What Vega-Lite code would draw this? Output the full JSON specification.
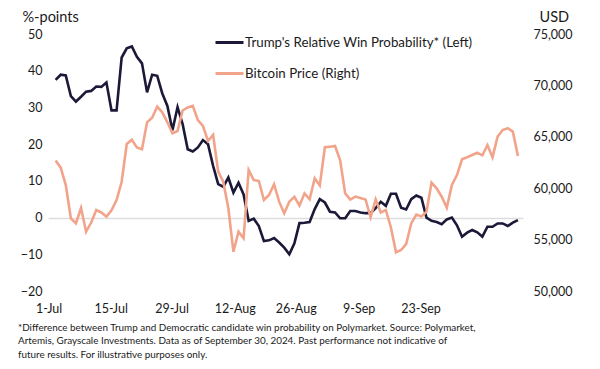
{
  "$schema": "https://vega.github.io/schema/vega-lite/v6.json",
  "width": 475,
  "height": 257,
  "autosize": {"type": "none"},
  "padding": {"left": 48, "top": 34, "right": 77, "bottom": 78},
  "background": "white",
  "config": {
    "font": "Lato",
    "view": {"stroke": null},
    "axis": {"labelColor": "#1a1a1a", "titleColor": "#1a1a1a", "labelFontSize": 12.5, "labelFont": "Lato", "domain": false, "ticks": false, "tickSize": 0}
  },
  "title": {
    "text": [
      "*Difference between Trump and Democratic candidate win probability on Polymarket. Source: Polymarket,",
      "Artemis, Grayscale Investments.  Data as of September 30, 2024. Past performance not indicative of",
      "future results. For illustrative purposes only."
    ],
    "orient": "bottom",
    "anchor": "start",
    "frame": "group",
    "dx": -30,
    "offset": 8,
    "fontSize": 9.9,
    "fontWeight": "normal",
    "font": "Lato",
    "color": "#1a1a1a",
    "lineHeight": 13.5
  },
  "data": {
    "values": [
      {"date": "2024-07-01", "trump": 37.5, "btc": 62700},
      {"date": "2024-07-02", "trump": 38.9, "btc": 62000},
      {"date": "2024-07-03", "trump": 38.7, "btc": 60300},
      {"date": "2024-07-04", "trump": 33.1, "btc": 57070},
      {"date": "2024-07-05", "trump": 31.6, "btc": 56590},
      {"date": "2024-07-06", "trump": 32.9, "btc": 58070},
      {"date": "2024-07-07", "trump": 34.3, "btc": 55770},
      {"date": "2024-07-08", "trump": 34.5, "btc": 56660},
      {"date": "2024-07-09", "trump": 35.7, "btc": 57880},
      {"date": "2024-07-10", "trump": 35.6, "btc": 57640},
      {"date": "2024-07-11", "trump": 36.8, "btc": 57230},
      {"date": "2024-07-12", "trump": 29.2, "btc": 57850},
      {"date": "2024-07-13", "trump": 29.2, "btc": 58850},
      {"date": "2024-07-14", "trump": 43.6, "btc": 60630},
      {"date": "2024-07-15", "trump": 46.1, "btc": 64300},
      {"date": "2024-07-16", "trump": 46.6, "btc": 64720},
      {"date": "2024-07-17", "trump": 43.8, "btc": 63960},
      {"date": "2024-07-18", "trump": 42.0, "btc": 63790},
      {"date": "2024-07-19", "trump": 34.1, "btc": 66410},
      {"date": "2024-07-20", "trump": 38.9, "btc": 66860},
      {"date": "2024-07-21", "trump": 38.6, "btc": 67930},
      {"date": "2024-07-22", "trump": 33.8, "btc": 67380},
      {"date": "2024-07-23", "trump": 30.4, "btc": 66410},
      {"date": "2024-07-24", "trump": 23.8, "btc": 65340},
      {"date": "2024-07-25", "trump": 30.1, "btc": 65560},
      {"date": "2024-07-26", "trump": 25.5, "btc": 67560},
      {"date": "2024-07-27", "trump": 18.6, "btc": 67850},
      {"date": "2024-07-28", "trump": 18.0, "btc": 68000},
      {"date": "2024-07-29", "trump": 19.1, "btc": 66630},
      {"date": "2024-07-30", "trump": 21.1, "btc": 66050},
      {"date": "2024-07-31", "trump": 20.0, "btc": 64590},
      {"date": "2024-08-01", "trump": 14.1, "btc": 65180},
      {"date": "2024-08-02", "trump": 9.1, "btc": 61610},
      {"date": "2024-08-03", "trump": 8.4, "btc": 60630},
      {"date": "2024-08-04", "trump": 10.9, "btc": 58050},
      {"date": "2024-08-05", "trump": 6.8, "btc": 53820},
      {"date": "2024-08-06", "trump": 9.5, "btc": 55770},
      {"date": "2024-08-07", "trump": 6.3, "btc": 55130},
      {"date": "2024-08-08", "trump": -0.9, "btc": 61770},
      {"date": "2024-08-09", "trump": -0.3, "btc": 60800},
      {"date": "2024-08-10", "trump": -2.3, "btc": 60700},
      {"date": "2024-08-11", "trump": -6.4, "btc": 58850},
      {"date": "2024-08-12", "trump": -6.2, "btc": 59340},
      {"date": "2024-08-13", "trump": -5.6, "btc": 60380},
      {"date": "2024-08-14", "trump": -6.8, "btc": 58690},
      {"date": "2024-08-15", "trump": -8.2, "btc": 57560},
      {"date": "2024-08-16", "trump": -10.0, "btc": 58690},
      {"date": "2024-08-17", "trump": -7.0, "btc": 59170},
      {"date": "2024-08-18", "trump": -1.5, "btc": 58320},
      {"date": "2024-08-19", "trump": -1.4, "btc": 59500},
      {"date": "2024-08-20", "trump": -1.2, "btc": 58920},
      {"date": "2024-08-21", "trump": 2.3, "btc": 60960},
      {"date": "2024-08-22", "trump": 5.0, "btc": 60260},
      {"date": "2024-08-23", "trump": 4.1, "btc": 63980},
      {"date": "2024-08-24", "trump": 1.6, "btc": 64040},
      {"date": "2024-08-25", "trump": 1.4, "btc": 64110},
      {"date": "2024-08-26", "trump": -0.2, "btc": 62740},
      {"date": "2024-08-27", "trump": -0.2, "btc": 59500},
      {"date": "2024-08-28", "trump": 1.8, "btc": 58900},
      {"date": "2024-08-29", "trump": 1.8, "btc": 59190},
      {"date": "2024-08-30", "trump": 1.4, "btc": 59050},
      {"date": "2024-08-31", "trump": 1.2, "btc": 58900},
      {"date": "2024-09-01", "trump": 1.2, "btc": 57170},
      {"date": "2024-09-02", "trump": 2.6, "btc": 58920},
      {"date": "2024-09-03", "trump": 4.3, "btc": 57640},
      {"date": "2024-09-04", "trump": 3.2, "btc": 57880},
      {"date": "2024-09-05", "trump": 6.5, "btc": 56180},
      {"date": "2024-09-06", "trump": 6.5, "btc": 53760},
      {"date": "2024-09-07", "trump": 2.7, "btc": 53990},
      {"date": "2024-09-08", "trump": 2.2, "btc": 54570},
      {"date": "2024-09-09", "trump": 5.0, "btc": 56570},
      {"date": "2024-09-10", "trump": 6.0, "btc": 57440},
      {"date": "2024-09-11", "trump": 5.4, "btc": 57250},
      {"date": "2024-09-12", "trump": 0.0, "btc": 57710},
      {"date": "2024-09-13", "trump": -0.9, "btc": 60540},
      {"date": "2024-09-14", "trump": -1.2, "btc": 59990},
      {"date": "2024-09-15", "trump": -1.8, "btc": 59170},
      {"date": "2024-09-16", "trump": -0.5, "btc": 58100},
      {"date": "2024-09-17", "trump": 0.0, "btc": 60310},
      {"date": "2024-09-18", "trump": -2.1, "btc": 61280},
      {"date": "2024-09-19", "trump": -5.2, "btc": 62810},
      {"date": "2024-09-20", "trump": -4.1, "btc": 63010},
      {"date": "2024-09-21", "trump": -3.4, "btc": 63230},
      {"date": "2024-09-22", "trump": -4.0, "btc": 63450},
      {"date": "2024-09-23", "trump": -5.2, "btc": 63200},
      {"date": "2024-09-24", "trump": -2.5, "btc": 64200},
      {"date": "2024-09-25", "trump": -2.5, "btc": 63010},
      {"date": "2024-09-26", "trump": -1.6, "btc": 65010},
      {"date": "2024-09-27", "trump": -1.6, "btc": 65660},
      {"date": "2024-09-28", "trump": -2.3, "btc": 65830},
      {"date": "2024-09-29", "trump": -1.4, "btc": 65500},
      {"date": "2024-09-30", "trump": -0.7, "btc": 63130}
    ]
  },
  "encoding": {
    "x": {
      "field": "date",
      "type": "temporal",
      "scale": {
        "type": "utc",
        "domain": [
          {"year": 2024, "month": 6, "date": 29, "hours": 12, "utc": true},
          {"year": 2024, "month": 10, "date": 1, "utc": true}
        ]
      },
      "axis": {
        "title": null,
        "grid": false,
        "labelPadding": 11,
        "labelFontSize": 12.5,
        "labelFlush": false,
        "labelOverlap": false,
        "values": [
          {"year": 2024, "month": 6, "date": 29, "hours": 15, "utc": true},
          {"year": 2024, "month": 7, "date": 11, "hours": 20, "utc": true},
          {"year": 2024, "month": 7, "date": 23, "hours": 20, "utc": true},
          {"year": 2024, "month": 8, "date": 5, "hours": 6, "utc": true},
          {"year": 2024, "month": 8, "date": 17, "hours": 6, "utc": true},
          {"year": 2024, "month": 8, "date": 29, "hours": 16, "utc": true},
          {"year": 2024, "month": 9, "date": 10, "hours": 20, "utc": true}
        ],
        "labelExpr": "datum.value < utc(2024,6,5) ? '1-Jul' : datum.value < utc(2024,6,17) ? '15-Jul' : datum.value < utc(2024,6,30) ? '29-Jul' : datum.value < utc(2024,7,11) ? '12-Aug' : datum.value < utc(2024,7,23) ? '26-Aug' : datum.value < utc(2024,8,5) ? '9-Sep' : '23-Sep'"
      }
    }
  },
  "layer": [
    {
      "mark": {"type": "line", "strokeWidth": 2.6, "strokeJoin": "miter", "interpolate": "linear"},
      "encoding": {
        "y": {
          "field": "trump",
          "type": "quantitative",
          "scale": {"domain": [-20, 50], "nice": false, "zero": false},
          "axis": {
            "orient": "left",
            "values": [-20, -10, 0, 10, 20, 30, 40, 50],
            "title": "%-points",
            "titleAngle": 0,
            "titleAlign": "left",
            "titleBaseline": "middle",
            "titleX": -26,
            "titleY": -17,
            "titleFontSize": 14.5,
            "titleFontWeight": "normal",
            "labelPadding": 6,
            "grid": true,
            "gridColor": "#dddddd",
            "gridWidth": 1.5,
            "gridOpacity": {"condition": {"test": "datum.value === 0", "value": 1}, "value": 0}
          }
        },
        "color": {
          "datum": "Trump's Relative Win Probability* (Left)",
          "type": "nominal",
          "scale": {
            "domain": ["Trump's Relative Win Probability* (Left)", "Bitcoin Price (Right)"],
            "range": ["#1b1838", "#f2a48b"]
          },
          "legend": {
            "title": null,
            "orient": "none",
            "legendX": 166,
            "legendY": -7,
            "direction": "vertical",
            "symbolType": "stroke",
            "symbolSize": 784,
            "symbolStrokeWidth": 3,
            "labelFontSize": 13.3,
            "labelColor": "#1a1a1a",
            "labelOffset": 0,
            "labelLimit": 0,
            "rowPadding": 9,
            "padding": 0
          }
        }
      }
    },
    {
      "mark": {"type": "line", "strokeWidth": 2.6, "strokeJoin": "miter", "interpolate": "linear"},
      "encoding": {
        "y": {
          "field": "btc",
          "type": "quantitative",
          "scale": {"domain": [50000, 75000], "nice": false, "zero": false},
          "axis": {
            "orient": "right",
            "values": [50000, 55000, 60000, 65000, 70000, 75000],
            "format": ",d",
            "title": "USD",
            "titleAngle": 0,
            "titleAlign": "left",
            "titleBaseline": "middle",
            "titleX": 16,
            "titleY": -17,
            "titleFontSize": 14.5,
            "titleFontWeight": "normal",
            "labelPadding": 10,
            "grid": false
          }
        },
        "color": {"datum": "Bitcoin Price (Right)", "type": "nominal"}
      }
    }
  ],
  "resolve": {"scale": {"y": "independent"}}
}
